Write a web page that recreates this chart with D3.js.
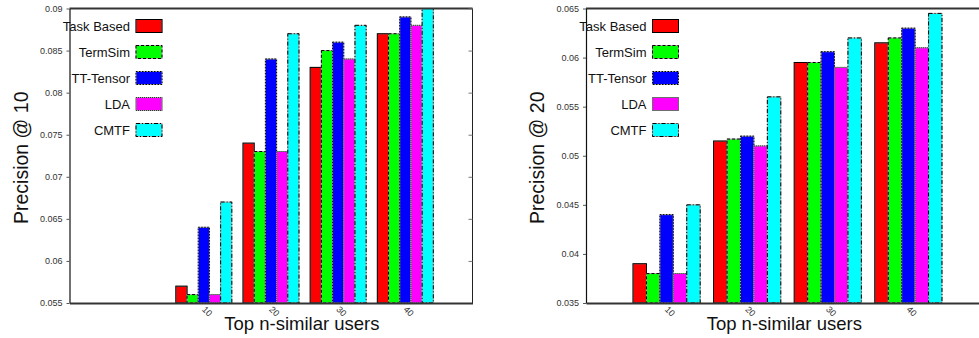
<!DOCTYPE html>
<html>
<head>
<meta charset="utf-8">
<script src="https://cdn.jsdelivr.net/npm/d3@7"></script>
<style>
  html, body { margin: 0; padding: 0; background: #fff; }
  svg { display: block; }
  text { font-family: "Liberation Sans", Arial, Helvetica, sans-serif; }
</style>
</head>
<body>
<div id="chart"></div>
<script>
// data
const categories = ['10', '20', '30', '40'];
const seriesNames = ['Task Based', 'TermSim', 'TT-Tensor', 'LDA', 'CMTF'];
const seriesColors = ['#ff0000', '#00ff00', '#0000ff', '#ff00ff', '#00ffff'];

// Precision @ 10, one array per series, in category order
const p10TaskBased = [0.057, 0.074, 0.083, 0.087];
const p10TermSim = [0.056, 0.073, 0.085, 0.087];
const p10TTTensor = [0.064, 0.084, 0.086, 0.089];
const p10LDA = [0.056, 0.073, 0.084, 0.088];
const p10CMTF = [0.067, 0.087, 0.088, 0.090];

// Precision @ 20
const p20TaskBased = [0.039, 0.0515, 0.0595, 0.0615];
const p20TermSim = [0.038, 0.0517, 0.0595, 0.062];
const p20TTTensor = [0.044, 0.052, 0.0606, 0.063];
const p20LDA = [0.038, 0.051, 0.059, 0.061];
const p20CMTF = [0.045, 0.056, 0.062, 0.0645];

const yTicks10 = [0.055, 0.06, 0.065, 0.07, 0.075, 0.08, 0.085, 0.09];
const yTicks20 = [0.035, 0.04, 0.045, 0.05, 0.055, 0.06, 0.065];

// border dash styles per series (gnuplot-ish)
const dashes = [null, '3,2', '1.5,1.5', '1,1', '4,2,1,2'];
const borderColors = ['#000', '#000', '#000', '#333', '#000'];

const width = 979, height = 338;

const svg = d3.select('#chart').append('svg')
  .attr('width', width)
  .attr('height', height);

function drawPanel(opts) {
  const { left, right, top, bottom, xDomain, yTicks, values, yTitle, titleX, legendX } = opts;

  const x = d3.scaleLinear().domain(xDomain).range([left, right]);
  const y = d3.scaleLinear().domain([yTicks[0], yTicks[yTicks.length - 1]]).range([bottom, top]);
  const g = svg.append('g');
  const barW = 1 / (seriesNames.length + 1);

  // bars: a grey outline underneath, then the dashed black border on top
  seriesNames.forEach((name, j) => {
    const rows = values[j].map((v, i) => ({ v, i }));
    g.append('g').selectAll('rect')
      .data(rows)
      .join('rect')
      .attr('x', d => x(d.i - seriesNames.length * barW / 2 + j * barW))
      .attr('width', x(barW) - x(0))
      .attr('y', d => y(d.v))
      .attr('height', d => y(yTicks[0]) - y(d.v))
      .attr('fill', seriesColors[j])
      .attr('stroke', '#aaa')
      .attr('stroke-width', 1);
    g.append('g').selectAll('rect')
      .data(rows)
      .join('rect')
      .attr('x', d => x(d.i - seriesNames.length * barW / 2 + j * barW))
      .attr('width', x(barW) - x(0))
      .attr('y', d => y(d.v))
      .attr('height', d => y(yTicks[0]) - y(d.v))
      .attr('fill', 'none')
      .attr('stroke', borderColors[j])
      .attr('stroke-width', 1)
      .attr('stroke-dasharray', dashes[j]);
  });

  // frame
  g.append('line').attr('x1', left).attr('x2', right).attr('y1', top).attr('y2', top)
    .attr('stroke', '#333').attr('stroke-width', 2);
  g.append('line').attr('x1', right).attr('x2', right).attr('y1', top).attr('y2', bottom)
    .attr('stroke', '#222').attr('stroke-width', 1);

  // y axis (left)
  const yAxis = g.append('g')
    .attr('transform', `translate(${left},0)`)
    .call(d3.axisLeft(y).tickValues(yTicks).tickFormat(d => +d.toFixed(3)).tickSizeInner(3).tickSizeOuter(0).tickPadding(4));
  yAxis.select('.domain').attr('stroke', '#111').attr('stroke-width', 1.2);
  yAxis.selectAll('.tick line').attr('stroke', '#555');
  yAxis.selectAll('text').attr('font-size', 9).attr('fill', '#333');

  // mirrored ticks (right)
  const yAxisR = g.append('g')
    .attr('transform', `translate(${right},0)`)
    .call(d3.axisRight(y).tickValues(yTicks).tickSize(-4).tickFormat(''));
  yAxisR.select('.domain').remove();
  yAxisR.selectAll('.tick line').attr('stroke', '#777');

  // x axis
  const xAxis = g.append('g')
    .attr('transform', `translate(0,${bottom})`)
    .call(d3.axisBottom(x).tickValues(categories.map((c, i) => i)).tickFormat((d, i) => categories[i]).tickSize(0));
  xAxis.select('.domain').attr('stroke', '#333').attr('stroke-width', 2);
  xAxis.selectAll('text')
    .attr('x', 0).attr('y', 0).attr('dy', '0.3em')
    .attr('transform', 'translate(-1,5) rotate(45)')
    .attr('text-anchor', 'start')
    .attr('font-size', 9)
    .attr('fill', '#333');

  // axis titles
  g.append('text')
    .attr('transform', `translate(${titleX},${(top + bottom) / 2 + 2}) rotate(-90)`)
    .attr('text-anchor', 'middle')
    .attr('font-size', 19.5)
    .attr('fill', '#111')
    .text(yTitle);
  g.append('text')
    .attr('x', x(1.5) - (x(1) - x(0)) * 0.04)
    .attr('y', 330)
    .attr('text-anchor', 'middle')
    .attr('font-size', 18.5)
    .attr('fill', '#111')
    .text('Top n-similar users');

  // legend
  const legend = g.append('g').selectAll('g')
    .data(seriesNames)
    .join('g')
    .attr('transform', (d, j) => `translate(${legendX},${19.5 + j * 26})`);
  legend.append('text')
    .attr('x', -6).attr('y', 11)
    .attr('text-anchor', 'end')
    .attr('font-size', 13)
    .attr('fill', '#111')
    .text(d => d);
  legend.append('rect')
    .attr('width', 26).attr('height', 13)
    .attr('fill', (d, j) => seriesColors[j])
    .attr('stroke', '#aaa');
  legend.append('rect')
    .attr('width', 26).attr('height', 13)
    .attr('fill', 'none')
    .attr('stroke', (d, j) => borderColors[j])
    .attr('stroke-dasharray', (d, j) => dashes[j]);
}

drawPanel({
  left: 69.5, right: 472.5, top: 8.5, bottom: 303,
  xDomain: [-2, 4], yTicks: yTicks10,
  values: [p10TaskBased, p10TermSim, p10TTTensor, p10LDA, p10CMTF],
  yTitle: 'Precision @ 10', titleX: 28, legendX: 136
});

drawPanel({
  left: 586, right: 989, top: 8.5, bottom: 303,
  xDomain: [-1, 4], yTicks: yTicks20,
  values: [p20TaskBased, p20TermSim, p20TTTensor, p20LDA, p20CMTF],
  yTitle: 'Precision @ 20', titleX: 544, legendX: 652.5
});
</script>
</body>
</html>
